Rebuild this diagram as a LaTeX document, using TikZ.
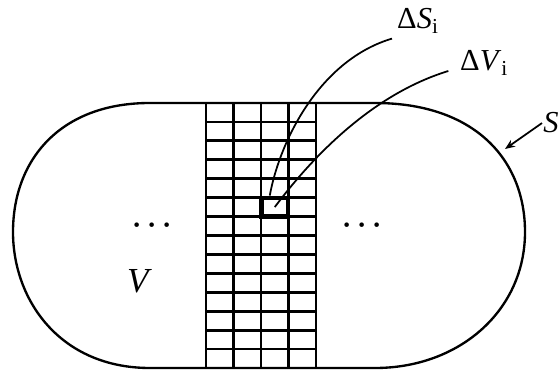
\documentclass[tikz,border=0pt]{standalone}
\usepackage{fontspec}
\setmainfont{Liberation Serif}
\usetikzlibrary{arrows.meta}
\tikzset{
  outline/.style={line width=2pt},
  gridline/.style={line width=2.4pt},
  cellbox/.style={draw, line width=4pt, minimum width=0.8cm, minimum height=0.55cm, inner sep=0pt},
  lead/.style={line width=1.5pt},
  arr/.style={-{Stealth[length=3mm,width=2.4mm]}, line width=1.5pt},
  lbl/.style={font=\fontsize{26}{30}\selectfont, inner sep=1.5mm},
  dotsrow/.style={font=\fontsize{36}{40}\selectfont\boldmath, inner sep=0pt}
}

\begin{document}
\begin{tikzpicture}[x=0.03cm,y=-0.03cm]
  \useasboundingbox (0,0) rectangle (560,375);
  % strip of volume elements
  \foreach \i in {0,...,4}
    \draw[gridline] (206+27.5*\i,103) -- (206+27.5*\i,368);
  \foreach \j in {1,...,13}
    \draw[gridline] (206,103+18.93*\j) -- (316,103+18.93*\j);
  % closed surface S
  \draw[outline] (375,103) .. controls (475,103) and (525,160) .. (525,232)
    .. controls (525,310) and (460,368) .. (375,368) -- (150,368)
    .. controls (60,368) and (13,300) .. (13,232)
    .. controls (13,160) and (60,103) .. (150,103) -- cycle;
  \node[cellbox] (cell) at (274.75,207.1) {};
  % labels
  \node[lbl, anchor=base west] (dS) at (392,29) {Δ\textit{S}\textsubscript{i}};
  \node[lbl, anchor=base west] (dV) at (455,71) {Δ\textit{V}\textsubscript{i}};
  \node[lbl, inner sep=1pt, anchor=base west] (Slbl) at (542,133) {\textit{S}};
  \coordinate (Spt) at (505,149);
  \node[dotsrow, anchor=base] (ldots) at (152,233) {$\cdots$};
  \node[dotsrow, anchor=base] (rdots) at (362,233) {$\cdots$};
  \node[font=\fontsize{30}{34}\selectfont\itshape, inner sep=0pt, anchor=base west] (vol) at (127,293) {V};
  % leaders
  \draw[lead] ([xshift=-0.15cm]cell.north) .. controls (280,140) and (320,60) .. (dS.south west);
  \draw[lead] (cell.center) .. controls (310,160) and (370,95) .. ([xshift=-0.2cm]dV.base west);
  \draw[arr] (Slbl.west) -- (Spt);
\end{tikzpicture}
\end{document}
